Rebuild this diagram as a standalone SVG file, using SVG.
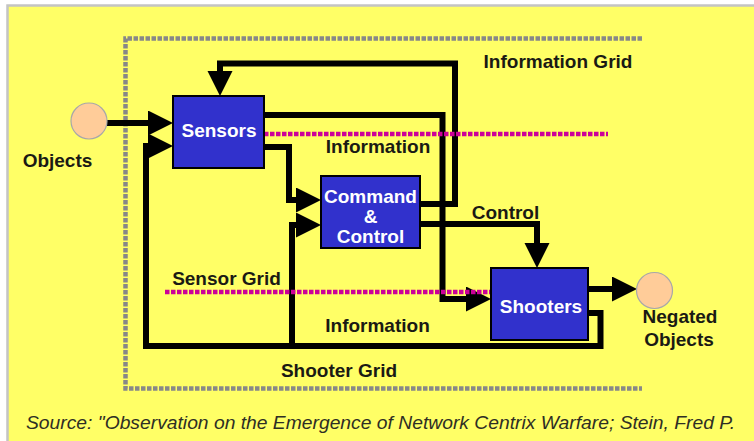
<svg xmlns="http://www.w3.org/2000/svg" width="754" height="441" viewBox="0 0 754 441">
<style>
.lbl{font-family:"Liberation Sans",Arial,sans-serif;font-size:19px;font-weight:bold;fill:#1a1a14;text-anchor:middle}
.wlbl{font-family:"Liberation Sans",Arial,sans-serif;font-size:19px;font-weight:bold;fill:#ffffff;text-anchor:middle}
.src{font-family:"Liberation Sans",Arial,sans-serif;font-size:17.5px;font-style:italic;fill:#2e2e24}
.box{fill:#3131cc;stroke:#000;stroke-width:2}
.obj{fill:#ffcc99;stroke:#a8a8a8;stroke-width:1.2}
.conn{fill:none;stroke:#000;stroke-width:6;stroke-linejoin:miter;stroke-linecap:butt}
.grid{fill:none;stroke:#cc0099;stroke-width:4.5;stroke-dasharray:4.5 1.5}
.frame{fill:none;stroke:#888888;stroke-width:4.5;stroke-dasharray:4.5 1.5}
</style>
<defs>
<marker id="ah" markerUnits="userSpaceOnUse" markerWidth="26" markerHeight="26" viewBox="0 0 26 26" refX="0" refY="12.5" orient="auto">
<path d="M0,0 L25,12.5 L0,25 Z" fill="#000"/>
</marker>
</defs>
<rect x="0" y="0" width="754" height="441" fill="#ffffff"/>
<rect x="7.5" y="5.5" width="760" height="450" fill="#ffff66" stroke="#c4c4c4" stroke-width="2.5"/>
<path class="frame" d="M642,38.5 H125.5 V388.5 H642"/>
<g id="connectors">
<path class="conn" d="M107,123 H148" marker-end="url(#ah)"/>
<path class="conn" d="M588,313 H600.5 V346 H146 V146 H148" marker-end="url(#ah)"/>
<path class="conn" d="M292,346 V225 H296" marker-end="url(#ah)"/>
<path class="conn" d="M264,147 H289 V200 H296" marker-end="url(#ah)"/>
<path class="conn" d="M264,115 H442.5 V299 H466" marker-end="url(#ah)"/>
<path class="conn" d="M420,204 H455 V63.5 H220 V71" marker-end="url(#ah)"/>
<path class="conn" d="M420,224 H537 V243" marker-end="url(#ah)"/>
<path class="conn" d="M588,289 H612" marker-end="url(#ah)"/>
</g>
<path class="grid" d="M264,134 H608"/>
<path class="grid" d="M165,292 H490"/>
<g id="objects">
<circle class="obj" cx="89" cy="121" r="18"/>
<text class="lbl" x="57.5" y="167">Objects</text>
</g>
<g id="sensors">
<rect class="box" x="173" y="96" width="91" height="72"/>
<text class="wlbl" x="219" y="137">Sensors</text>
</g>
<g id="command-control">
<rect class="box" x="321" y="176" width="99" height="72"/>
<text class="wlbl" x="370.5" y="203">Command</text>
<text class="wlbl" x="370.5" y="223">&amp;</text>
<text class="wlbl" x="370.5" y="243">Control</text>
</g>
<g id="shooters">
<rect class="box" x="491" y="268" width="97" height="72"/>
<text class="wlbl" x="541" y="313">Shooters</text>
</g>
<g id="negated-objects">
<circle class="obj" cx="654.5" cy="290.5" r="18"/>
<text class="lbl" x="680" y="323">Negated</text>
<text class="lbl" x="679" y="346">Objects</text>
</g>
<g id="labels">
<text class="lbl" x="558" y="67.5">Information Grid</text>
<text class="lbl" x="378" y="153">Information</text>
<text class="lbl" x="505.5" y="219">Control</text>
<text class="lbl" x="226.5" y="285">Sensor Grid</text>
<text class="lbl" x="377.5" y="331.5">Information</text>
<text class="lbl" x="339" y="377">Shooter Grid</text>
</g>
<text class="src" x="26" y="429" textLength="709" lengthAdjust="spacingAndGlyphs">Source: "Observation on the Emergence of Network Centrix Warfare; Stein, Fred P.</text>
</svg>
